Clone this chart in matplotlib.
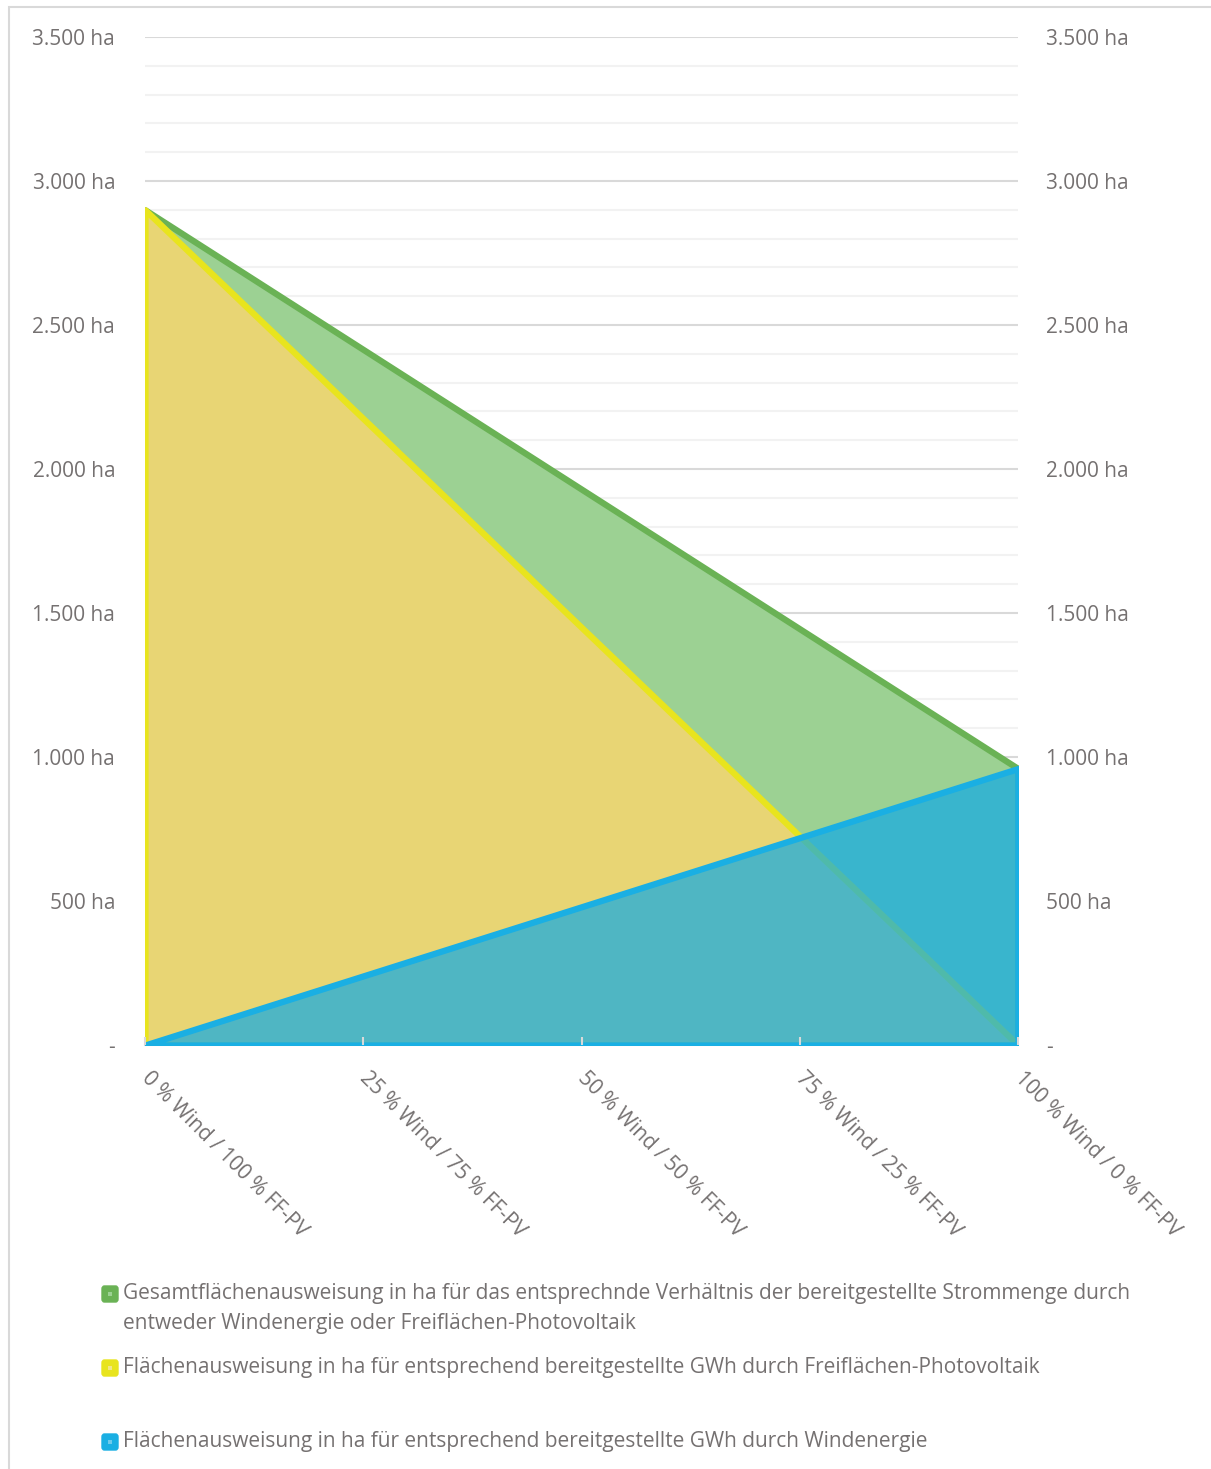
import numpy as np
import matplotlib.pyplot as plt
import matplotlib.transforms as mtransforms
from matplotlib.patches import Rectangle, FancyBboxPatch
from matplotlib.ticker import FuncFormatter, MultipleLocator

categories = ["0 % Wind / 100 % FF-PV", "25 % Wind / 75 % FF-PV", "50 % Wind / 50 % FF-PV",
              "75 % Wind / 25 % FF-PV", "100 % Wind / 0 % FF-PV"]
gesamt = [2900, 2415, 1930, 1445, 960]
pv = [2900, 2175, 1450, 725, 0]
wind = [0, 240, 480, 720, 960]

legend_lines = [
    ["Gesamtflächenausweisung in ha für das entsprechnde Verhältnis der bereitgestellte Strommenge durch",
     "entweder Windenergie oder Freiflächen-Photovoltaik"],
    ["Flächenausweisung in ha für entsprechend bereitgestellte GWh durch Freiflächen-Photovoltaik"],
    ["Flächenausweisung in ha für entsprechend bereitgestellte GWh durch Windenergie"],
]
legend_colors = ["#6AB255", "#E8E41E", "#1AAFE3"]
legend_inner = ["#9CD193", "#F0E68A", "#6FCBEB"]

plt.rcParams['font.family'] = ['Open Sans', 'DejaVu Sans']
txt = "#757171"
fs = 15

W, H = 1211, 1469
fig = plt.figure(figsize=(W / 100, H / 100), dpi=100)
fig.patches.append(Rectangle((9 / W, -0.05), 1.2, 1 - 7 / H + 0.05, transform=fig.transFigure,
                             fill=False, edgecolor="#D9D9D9", linewidth=1.5))

ax = fig.add_axes([145 / W, 1 - 1045 / H, (1018 - 145) / W, (1045 - 37) / H])
x = np.arange(len(categories))

ax.fill_between(x, 0, gesamt, facecolor="#9CD193", edgecolor="#6AB255", linewidth=4.5, zorder=2)
ax.fill_between(x, 0, pv, facecolor="#E8D574", edgecolor="#E8E41E", linewidth=4.5, zorder=3)
ax.fill_between(x, 0, wind, facecolor=(0.067, 0.667, 0.898, 0.71), edgecolor="#1AAFE3",
                linewidth=4.5, zorder=4)

ax.set_xlim(0, len(categories) - 1)
ax.set_ylim(0, 3500)
ax.yaxis.set_major_locator(MultipleLocator(500))
ax.yaxis.set_minor_locator(MultipleLocator(100))
ax.grid(axis='y', which='major', color="#D9D9D9", linewidth=1.5, zorder=0)
ax.grid(axis='y', which='minor', color="#F2F2F2", linewidth=1.5, zorder=0)
ax.set_axisbelow(True)
ax.xaxis.set_zorder(5)

fmt = FuncFormatter(lambda v, p: "-" if v == 0 else f"{v:,.0f} ha".replace(",", "."))
ax.yaxis.set_major_formatter(fmt)
ax.tick_params(axis='y', which='both', length=0, labelsize=fs, labelcolor=txt, pad=21.5)

for s in ['top', 'left', 'right']:
    ax.spines[s].set_visible(False)
ax.spines['bottom'].set_color("#D9D9D9")
ax.spines['bottom'].set_linewidth(1.5)
ax.spines['bottom'].set_zorder(1)

ax.set_xticks(x)
ax.set_xticklabels(categories, rotation=-45, ha='left', va='top', rotation_mode='anchor')
ax.tick_params(axis='x', direction='in', length=6, width=1.5, color="#D9D9D9",
               labelsize=fs, labelcolor=txt, pad=16)
shift = mtransforms.ScaledTranslation(7 / 100, 0, fig.dpi_scale_trans)
for lab in ax.get_xticklabels():
    lab.set_transform(lab.get_transform() + shift)

ax2 = ax.twinx()
ax2.set_ylim(ax.get_ylim())
ax2.yaxis.set_major_locator(MultipleLocator(500))
ax2.yaxis.set_major_formatter(fmt)
ax2.tick_params(axis='y', length=0, labelsize=fs, labelcolor=txt, pad=20)
for s in ax2.spines.values():
    s.set_visible(False)

# legend
y0 = 1294
for i, (lines, col, inner) in enumerate(zip(legend_lines, legend_colors, legend_inner)):
    yc = y0 + i * 74
    fig.patches.append(FancyBboxPatch((102 / W, 1 - (yc + 8) / H), 16 / W, 16 / H,
                                      boxstyle="round,pad=0,rounding_size=0.002",
                                      transform=fig.transFigure, facecolor=col, edgecolor=col))
    fig.patches.append(Rectangle((108 / W, 1 - (yc + 2) / H), 4 / W, 4 / H,
                                 transform=fig.transFigure, facecolor=inner, edgecolor='none'))
    for j, line in enumerate(lines):
        fig.text(123 / W, 1 - (yc + j * 29) / H, line, fontsize=fs, color=txt,
                 ha='left', va='center')

fig.savefig("out.png", dpi=100)
